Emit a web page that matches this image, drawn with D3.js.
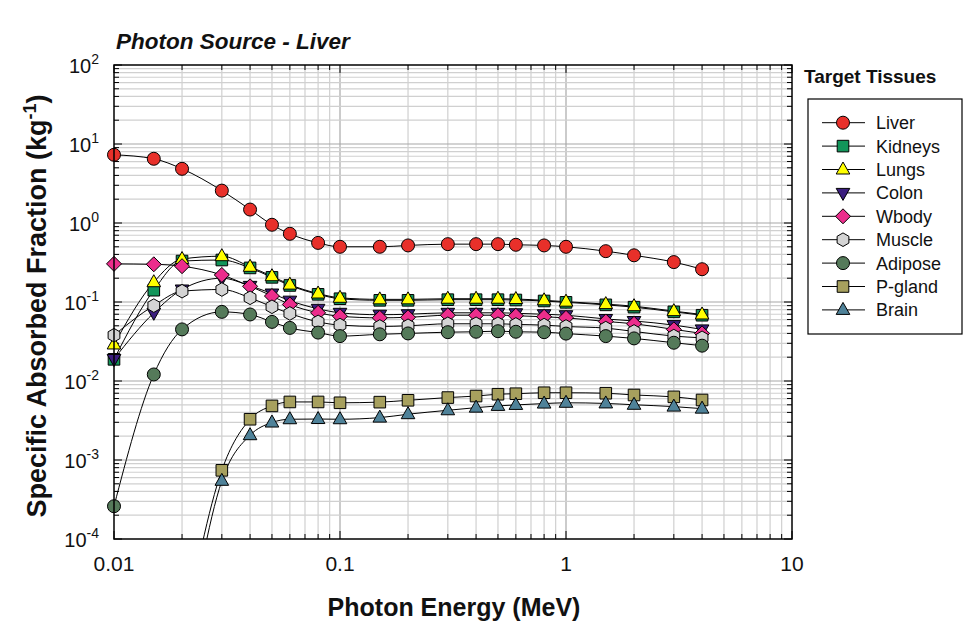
<!DOCTYPE html>
<html><head><meta charset="utf-8">
<script src="https://cdn.jsdelivr.net/npm/d3@7"></script>
<style>body{margin:0;background:#fff;} text{font-family:Arial,"Liberation Sans",sans-serif;}</style>
</head><body><svg id="c" width="967" height="629"></svg>
<script>
const energies = [0.01,0.015,0.02,0.03,0.04,0.05,0.06,0.08,0.1,0.15,0.2,0.3,0.4,0.5,0.6,0.8,1,1.5,2,3,4];
const liver   = [7.3,6.5,4.85,2.57,1.48,0.95,0.73,0.56,0.50,0.50,0.52,0.54,0.54,0.54,0.53,0.52,0.50,0.44,0.39,0.32,0.26];
const kidneys = [0.0188,0.141,0.33,0.34,0.27,0.205,0.162,0.125,0.110,0.105,0.105,0.107,0.107,0.107,0.106,0.103,0.099,0.092,0.086,0.075,0.068];
const lungs   = [0.029,0.178,0.35,0.38,0.279,0.212,0.166,0.128,0.113,0.108,0.108,0.110,0.110,0.110,0.109,0.105,0.101,0.094,0.0885,0.0766,0.0695];
const colon   = [0.019,0.073,0.144,0.20,0.16,0.128,0.104,0.082,0.073,0.069,0.070,0.073,0.073,0.073,0.072,0.070,0.068,0.061,0.0575,0.051,0.045];
const wbody   = [0.304,0.30,0.284,0.22,0.158,0.119,0.093,0.073,0.066,0.063,0.064,0.068,0.068,0.068,0.067,0.065,0.063,0.0567,0.053,0.045,0.040];
const muscle  = [0.038,0.090,0.137,0.144,0.113,0.087,0.0716,0.056,0.051,0.049,0.050,0.053,0.053,0.053,0.052,0.051,0.049,0.0467,0.0424,0.037,0.0352];
const adipose = [0.00026,0.0121,0.045,0.075,0.0695,0.056,0.047,0.041,0.037,0.039,0.040,0.0415,0.042,0.0427,0.042,0.0415,0.0398,0.037,0.0346,0.0305,0.028];
const pgland  = [null,null,5e-6,7.4e-4,3.28e-3,4.84e-3,5.43e-3,5.43e-3,5.3e-3,5.4e-3,5.7e-3,6.17e-3,6.45e-3,6.8e-3,6.9e-3,7.1e-3,7.1e-3,7.0e-3,6.65e-3,6.3e-3,5.75e-3];
const brain   = [null,null,2e-6,5.45e-4,2.06e-3,2.98e-3,3.28e-3,3.3e-3,3.28e-3,3.44e-3,3.8e-3,4.26e-3,4.6e-3,4.84e-3,4.98e-3,5.18e-3,5.3e-3,5.2e-3,5.0e-3,4.74e-3,4.47e-3];

const seriesNames = ["Liver","Kidneys","Lungs","Colon","Wbody","Muscle","Adipose","P-gland","Brain"];
const seriesValues = [liver,kidneys,lungs,colon,wbody,muscle,adipose,pgland,brain];
const seriesColors = ["#e8302a","#12955a","#ffff00","#3b1e7e","#ec2d8c","#d4d4d4","#557a5a","#a7a05e","#4f8299"];
const seriesShapes = ["circle","square","triangle","tridown","diamond","hexagon","circle","square","triangle"];
const xTickLabels = ["0.01","0.1","1","10"];
const yTickExps = ["2","1","0","-1","-2","-3","-4"];

const svg = d3.select("#c");
const L=114,R=792,T=65,B=539;
const x = d3.scaleLog().domain([0.01,10]).range([L,R]);
const y = d3.scaleLog().domain([1e-4,100]).range([B,T]);

// grid
const xMinor=[], yMinor=[];
for(let d=-2; d<1; d++) for(let k=1;k<10;k++) xMinor.push(k*Math.pow(10,d));
for(let d=-4; d<2; d++) for(let k=1;k<10;k++) yMinor.push(k*Math.pow(10,d));
const isMaj = v=>Math.abs(Math.log10(v)-Math.round(Math.log10(v)))<1e-6;
const g = svg.append("g");
g.selectAll(".vx").data(xMinor.filter(v=>v>0.0100001)).enter().append("line")
  .attr("x1",d=>x(d)).attr("x2",d=>x(d)).attr("y1",T).attr("y2",B)
  .attr("stroke",d=>isMaj(d)?"#a8a8a8":"#d0d0d0").attr("stroke-width",1.2);
g.selectAll(".hy").data(yMinor.filter(v=>v>1.00001e-4)).enter().append("line")
  .attr("y1",d=>y(d)).attr("y2",d=>y(d)).attr("x1",L).attr("x2",R)
  .attr("stroke",d=>isMaj(d)?"#a8a8a8":"#d0d0d0").attr("stroke-width",1.2);

// ticks (inside)
const tk = svg.append("g").attr("stroke","#000").attr("stroke-width",1);
xMinor.concat([10]).forEach(v=>{
  const len = isMaj(v)?8:5;
  tk.append("line").attr("x1",x(v)).attr("x2",x(v)).attr("y1",B).attr("y2",B-len);
  tk.append("line").attr("x1",x(v)).attr("x2",x(v)).attr("y1",T).attr("y2",T+len);
});
yMinor.concat([100]).forEach(v=>{
  const len = isMaj(v)?8:5;
  tk.append("line").attr("y1",y(v)).attr("y2",y(v)).attr("x1",L).attr("x2",L+len);
  tk.append("line").attr("y1",y(v)).attr("y2",y(v)).attr("x1",R).attr("x2",R-len);
});

// clip
svg.append("clipPath").attr("id","clip").append("rect").attr("x",L).attr("y",T).attr("width",R-L).attr("height",B-T);

const line = d3.line().defined(d=>d[1]!=null).x(d=>x(d[0])).y(d=>y(d[1])).curve(d3.curveMonotoneX);

function shapePath(s){
  switch(s){
    case "circle": return "M6.5,0A6.5,6.5,0,1,1,-6.5,0A6.5,6.5,0,1,1,6.5,0Z";
    case "square": return "M-5.8,-5.8H5.8V5.8H-5.8Z";
    case "triangle": return "M0,-7.5L6.8,4.5H-6.8Z";
    case "tridown": return "M0,7.5L6.8,-4.5H-6.8Z";
    case "diamond": return "M0,-7.5L7.5,0L0,7.5L-7.5,0Z";
    case "hexagon": {
      const pts=[]; for(let i=0;i<6;i++){const a=Math.PI/6+i*Math.PI/3; pts.push([6.8*Math.cos(a),6.8*Math.sin(a)]);}
      return "M"+pts.map(p=>p[0].toFixed(2)+","+p[1].toFixed(2)).join("L")+"Z";
    }
  }
}

const lg = svg.append("g").attr("clip-path","url(#clip)");
seriesValues.forEach((vals,i)=>{
  const pts = energies.map((e,j)=>[e,vals[j]]);
  lg.append("path").datum(pts).attr("d",line).attr("fill","none").attr("stroke","#000").attr("stroke-width",1);
});
const mg = svg.append("g");
seriesValues.forEach((vals,i)=>{
  const pts = energies.map((e,j)=>[e,vals[j]]).filter(d=>d[1]!=null && d[1]>=1e-4);
  mg.selectAll(null).data(pts).enter().append("path")
    .attr("transform",d=>`translate(${x(d[0])},${y(d[1])})`)
    .attr("d",shapePath(seriesShapes[i])).attr("fill",seriesColors[i]).attr("stroke","#000").attr("stroke-width",1);
});

// frame
svg.append("rect").attr("x",L).attr("y",T).attr("width",R-L).attr("height",B-T).attr("fill","none").attr("stroke","#000").attr("stroke-width",1.5);

// x tick labels
[0.01,0.1,1,10].forEach((v,i)=>{
  svg.append("text").attr("x",x(v)).attr("y",571).attr("text-anchor","middle").attr("font-size",21).attr("fill","#111").text(xTickLabels[i]);
});
// y tick labels
[100,10,1,0.1,0.01,0.001,0.0001].forEach((v,i)=>{
  const t = svg.append("text").attr("x",99).attr("y",y(v)+8).attr("text-anchor","end").attr("font-size",20).attr("fill","#111");
  t.append("tspan").text("10");
  t.append("tspan").attr("dy",-9).attr("font-size",14).text(yTickExps[i]);
});

// titles
svg.append("text").attr("x",116).attr("y",49).attr("font-size",22.5).attr("font-weight","bold").attr("font-style","italic").attr("fill","#111").text("Photon Source - Liver");
svg.append("text").attr("x",454).attr("y",616).attr("text-anchor","middle").attr("font-size",25).attr("font-weight","bold").attr("fill","#111").text("Photon Energy (MeV)");
const yt = svg.append("text").attr("transform","translate(46,306) rotate(-90)").attr("text-anchor","middle").attr("font-size",27).attr("font-weight","bold").attr("fill","#111");
yt.append("tspan").text("Specific Absorbed Fraction (kg");
yt.append("tspan").attr("dy",-10).attr("font-size",18).text("-1");
yt.append("tspan").attr("dy",10).text(")");

// legend
svg.append("text").attr("x",804).attr("y",83).attr("font-size",19).attr("font-weight","bold").attr("fill","#111").text("Target Tissues");
svg.append("rect").attr("x",808).attr("y",99).attr("width",154).attr("height",235).attr("fill","#fff").attr("stroke","#000").attr("stroke-width",1.2);
seriesNames.forEach((n,i)=>{
  const cy = 122.7 + i*23.4;
  svg.append("line").attr("x1",822).attr("x2",865).attr("y1",cy).attr("y2",cy).attr("stroke","#000").attr("stroke-width",1);
  svg.append("path").attr("transform",`translate(843,${cy})`).attr("d",shapePath(seriesShapes[i])).attr("fill",seriesColors[i]).attr("stroke","#000").attr("stroke-width",1);
  svg.append("text").attr("x",876).attr("y",cy+6.5).attr("font-size",18).attr("fill","#111").text(n);
});
</script></body></html>
